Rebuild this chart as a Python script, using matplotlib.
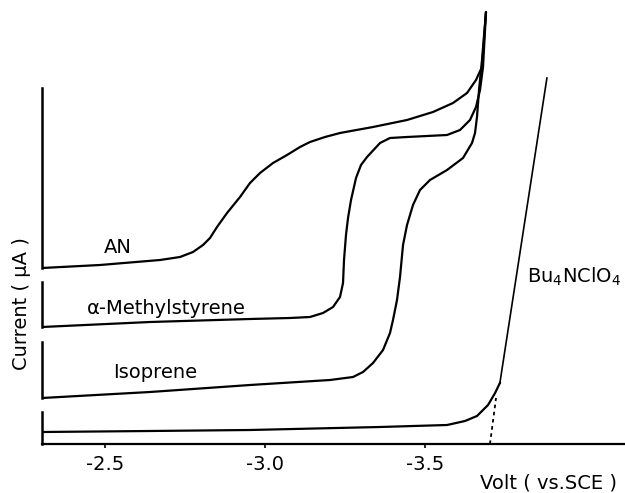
import matplotlib
matplotlib.use("Agg")
from matplotlib import pyplot as plt

# potential in V vs SCE, current in arbitrary units (each curve offset)
an_v = [-2.3031, -2.4844, -2.6719, -2.7344, -2.775, -2.8063, -2.8281, -2.85, -2.8813, -2.9219,
        -2.9531, -2.9844, -3.025, -3.0688, -3.1094, -3.1406, -3.1875, -3.2344, -3.3375, -3.4438,
        -3.525, -3.5875, -3.6313, -3.6594, -3.6781, -3.6906]
an_i = [4.40, 4.475, 4.60, 4.675, 4.80, 4.975, 5.15, 5.425, 5.775, 6.175,
        6.525, 6.775, 7.025, 7.225, 7.425, 7.55, 7.675, 7.775, 7.925, 8.10,
        8.30, 8.525, 8.775, 9.10, 9.425, 10.80]

ms_v = [-2.3031, -2.6406, -2.9531, -3.0781, -3.1406, -3.1813, -3.2125, -3.2344, -3.2438, -3.2469,
        -3.2531, -3.2594, -3.2688, -3.2844, -3.30, -3.3188, -3.3594, -3.3906, -3.4438, -3.5688,
        -3.6094, -3.6406, -3.6594, -3.6719, -3.6813, -3.6906]
ms_i = [2.925, 3.05, 3.125, 3.15, 3.175, 3.275, 3.425, 3.675, 4.025, 4.60,
        5.225, 5.65, 6.10, 6.65, 6.975, 7.175, 7.525, 7.65, 7.675, 7.725,
        7.85, 8.10, 8.425, 8.85, 9.425, 10.80]

iso_v = [-2.3031, -2.6406, -2.9531, -3.2031, -3.275, -3.3063, -3.3375, -3.3688, -3.3906, -3.40,
         -3.4125, -3.4219, -3.4313, -3.4438, -3.4625, -3.4844, -3.5156, -3.5688, -3.6188, -3.6469,
         -3.6563, -3.6625, -3.6688, -3.6781, -3.6906]
iso_i = [1.15, 1.30, 1.475, 1.60, 1.675, 1.80, 2.025, 2.35, 2.775, 3.10,
         3.60, 4.175, 4.975, 5.475, 5.975, 6.35, 6.60, 6.85, 7.15, 7.525,
         7.775, 8.175, 8.85, 9.60, 10.80]

bu_v = [-2.3031, -2.641, -2.953, -3.359, -3.569, -3.625, -3.6625, -3.697, -3.719, -3.734, -3.881]
bu_i = [0.30, 0.325, 0.35, 0.425, 0.475, 0.575, 0.70, 0.975, 1.275, 1.525, 9.15]

# extrapolated onset of the background (dotted)
bu_tan_v = [-3.703, -3.722]
bu_tan_i = [0.0, 1.15]

# left current scale bar of each trace (bottom, top)
bars = {"AN": (4.40, 8.90), "ms": (2.925, 4.05), "iso": (1.15, 2.55), "bu": (0.0, 0.80)}

xticks = [-2.5, -3.0, -3.5]
xticklabels = ["-2.5", "-3.0", "-3.5"]

fig = plt.figure(figsize=(6.25, 4.93), dpi=100)
ax = fig.add_axes([42 / 625, 49 / 493, 583 / 625, 444 / 493])
v0 = -2.3031

for v, i in [(an_v, an_i), (ms_v, ms_i), (iso_v, iso_i)]:
    ax.plot(v, i, color="black", lw=1.6, solid_capstyle="round", solid_joinstyle="round")
ax.plot(bu_v[:-1], bu_i[:-1], color="black", lw=1.6, solid_joinstyle="round")
ax.plot(bu_v[-2:], bu_i[-2:], color="black", lw=1.2)
ax.plot(bu_tan_v, bu_tan_i, color="black", lw=1.3, ls=(0, (2, 2)))

for lo, hi in bars.values():
    ax.plot([v0, v0], [lo, hi], color="black", lw=1.8, clip_on=False)

ax.set_xlim(v0, -4.125)
ax.set_ylim(0, 11.1)
for s in ["top", "right", "left"]:
    ax.spines[s].set_visible(False)
ax.spines["bottom"].set_linewidth(1.6)
ax.set_yticks([])
ax.set_xticks(xticks)
ax.set_xticklabels(xticklabels, fontsize=14)
ax.tick_params(axis="x", direction="out", length=3, width=1.2, pad=5)

ax.text(-2.541, 4.9, "AN", fontsize=14, ha="center", va="center")
ax.text(-2.691, 3.4, "α-Methylstyrene", fontsize=14, ha="center", va="center")
ax.text(-2.656, 1.8, "Isoprene", fontsize=14, ha="center", va="center")
ax.text(-3.819, 4.175, "Bu$_4$NClO$_4$", fontsize=14, ha="left", va="center")

fig.text(548 / 625, 1 - 483 / 493, "Volt ( vs.SCE )", fontsize=14, ha="center", va="center")
fig.text(22 / 625, 1 - 304 / 493, "Current ( μA )", fontsize=14, rotation=90,
         ha="center", va="center")

fig.savefig("out.png", dpi=100)
